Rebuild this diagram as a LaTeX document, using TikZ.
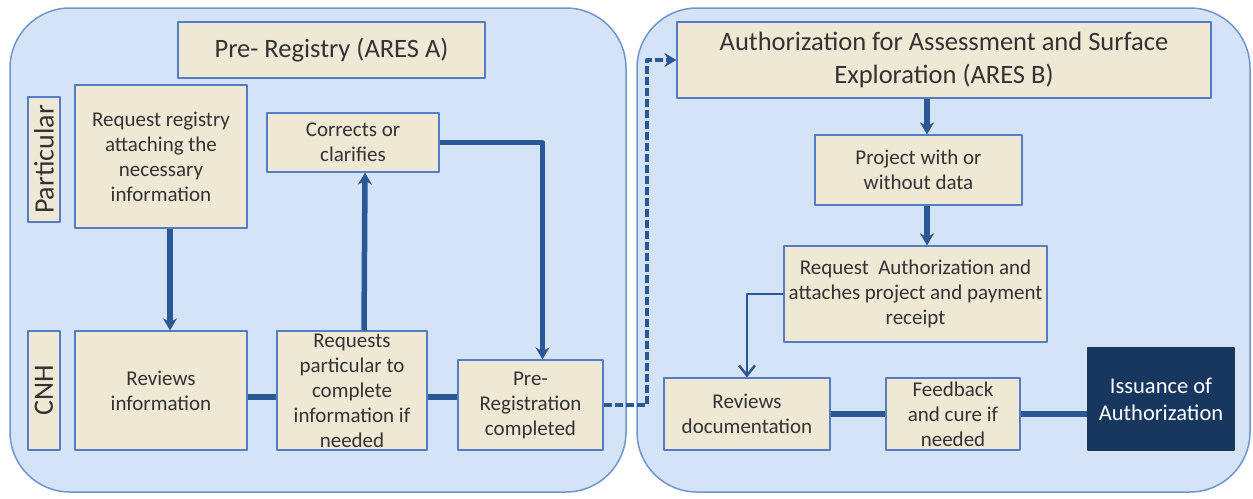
\documentclass[tikz,border=0pt]{standalone}
\usepackage{fontspec}
\setmainfont{Carlito}
\usetikzlibrary{arrows.meta}
\definecolor{panelblue}{RGB}{212,227,245}
\definecolor{panelline}{RGB}{110,150,205}
\definecolor{boxfill}{RGB}{238,232,212}
\definecolor{boxline}{RGB}{85,125,195}
\definecolor{linkblue}{RGB}{42,88,148}
\definecolor{navy}{RGB}{24,55,95}
\tikzset{
	panel/.style={draw=panelline,line width=1.5pt,fill=panelblue,rounded corners=60pt},
	procbox/.style={draw=boxline,line width=1.2pt,fill=boxfill,align=center,inner sep=3pt,
		text=black!80,font=\fontsize{21}{25}\selectfont},
	headbox/.style={procbox,font=\fontsize{26.5}{33}\selectfont},
	lanebox/.style={procbox,rotate=90,inner sep=1pt,font=\fontsize{28}{30}\selectfont},
	link/.style={draw=linkblue,line width=5.5pt},
	thinlink/.style={draw=linkblue,line width=2.5pt,-{Straight Barb[length=10pt,width=16pt]}},
}
\begin{document}
\begin{tikzpicture}[x=1pt,y=-1pt, line join=round, >={Stealth[length=12pt,width=14pt]}]
	\useasboundingbox (0,0) rectangle (1253,498);
	% two stage panels
	\draw[panel] (10,8) rectangle (626,492);
	\draw[panel] (637,8) rectangle (1250,492);
	% ARES A
	\node[headbox,minimum width=307,minimum height=56] (prereghead) at (331.5,50) {Pre- Registry (ARES A)};
	\node[lanebox,minimum width=125,minimum height=32] (partic) at (44,159.5) {Particular};
	\node[lanebox,minimum width=119,minimum height=32] (cnh) at (44,390.5) {CNH};
	\node[procbox,minimum width=172,minimum height=143] (reqreg) at (161,156.5) {Request registry\\attaching the\\necessary\\information};
	\node[procbox,minimum width=172,minimum height=59] (corr) at (353,142.5) {Corrects or\\clarifies};
	\node[procbox,minimum width=172,minimum height=119] (revinfo) at (161,390.5) {Reviews\\information};
	\node[procbox,inner ysep=0pt,minimum width=150,minimum height=119] (reqpart) at (352,390.5) {Requests\\particular to\\complete\\information if\\needed};
	\node[procbox,minimum width=145,minimum height=90] (prereg) at (530.5,405) {Pre-\\Registration\\completed};
	% ARES B
	\node[headbox,minimum width=534,minimum height=76] (aresb) at (944,60) {Authorization for Assessment and Surface\\Exploration (ARES B)};
	\node[procbox,minimum width=207,minimum height=70] (project) at (918.5,170) {Project with or\\without data};
	\node[procbox,minimum width=263,minimum height=96] (reqauth) at (915.5,294) {Request\ \ Authorization and\\attaches project and payment\\receipt};
	\node[procbox,minimum width=166,minimum height=72] (revdoc) at (747,414) {Reviews\\documentation};
	\node[procbox,inner ysep=0pt,minimum width=134,minimum height=72] (feedback) at (953,414) {Feedback\\and cure if\\needed};
	\node[procbox,fill=navy,draw=navy,text=white,font=\fontsize{22.5}{27}\selectfont,minimum width=146,minimum height=102] (issue) at (1161,399) {Issuance of\\Authorization};
	% helper points
	\coordinate (dashtop) at (647,60);
	\path ([yshift=-6.5pt]revinfo.east) coordinate (rvout)
		([yshift=-6.5pt]reqpart.east) coordinate (rpout)
		([xshift=8.5pt]project.north) coordinate (pjin)
		([xshift=8.5pt]project.south) coordinate (pjout);
	% connectors
	\draw[link,->] ([xshift=9pt]reqreg.south) -- ([xshift=9pt]revinfo.north);
	\draw[link,->] ([xshift=12pt]reqpart.north) -- ([xshift=12pt]corr.south);
	\draw[link,->] (corr.east) -| ([xshift=12pt]prereg.north);
	\draw[link] (rvout) -- (rvout -| reqpart.west);
	\draw[link] (rpout) -- (rpout -| prereg.west);
	\draw[link,line width=4.5pt,dash pattern=on 8pt off 3pt,->] (prereg.east) -| (dashtop) -- (aresb.west);
	\draw[link,->] (pjin |- aresb.south) -- (pjin);
	\draw[link,->] (pjout) -- (pjout |- reqauth.north);
	\draw[thinlink] (reqauth.west) -| (revdoc.north);
	\draw[link] (revdoc.east) -- (feedback.west);
	\draw[link] (feedback.east) -- (feedback.east -| issue.west);
\end{tikzpicture}
\end{document}
